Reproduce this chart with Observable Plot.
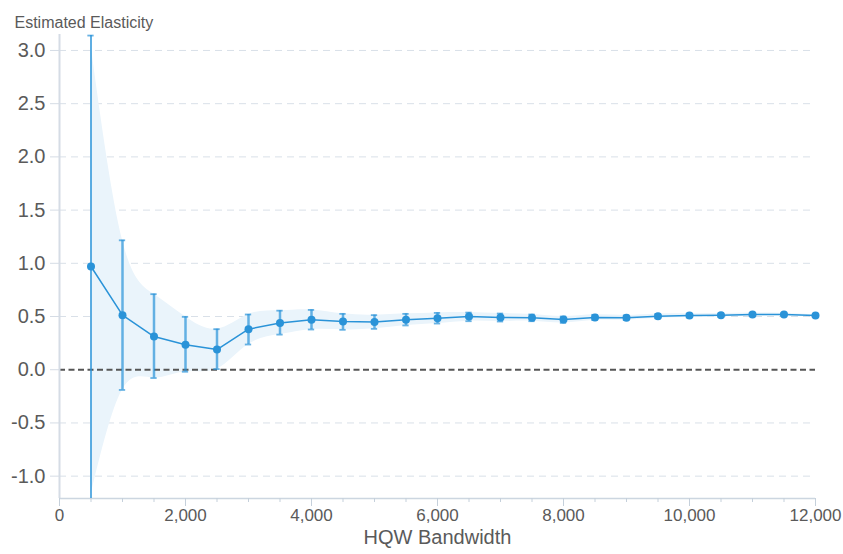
<!DOCTYPE html>
<html>
<head>
<meta charset="utf-8">
<script src="https://cdn.jsdelivr.net/npm/d3@7"></script>
<script src="https://cdn.jsdelivr.net/npm/@observablehq/plot@0.6"></script>
<style>
  html, body { margin: 0; padding: 0; background: #fff; }
</style>
</head>
<body>
<div id="chart"></div>
<script>
const bandwidths = [500,1000,1500,2000,2500,3000,3500,4000,4500,5000,5500,6000,6500,7000,7500,8000,8500,9000,9500,10000,10500,11000,11500,12000];
const estimates  = [0.97,0.513,0.312,0.234,0.19,0.381,0.44,0.469,0.453,0.448,0.469,0.484,0.5,0.491,0.488,0.471,0.491,0.488,0.503,0.509,0.513,0.519,0.519,0.509];
const ciLow      = [-1.45,-0.19,-0.078,-0.019,0.006,0.237,0.33,0.378,0.375,0.384,0.416,0.434,0.456,0.453,0.456,0.44,0.466,0.466,0.483,0.491,0.498,0.506,0.509,0.501];
const ciHigh     = [3.14,1.216,0.71,0.497,0.381,0.519,0.555,0.562,0.525,0.513,0.525,0.534,0.537,0.528,0.519,0.5,0.516,0.51,0.523,0.527,0.528,0.532,0.529,0.517];
const bandLow    = [-1.17,-0.19,-0.078,-0.019,0.006,0.237,0.33,0.378,0.375,0.384,0.416,0.434,0.456,0.453,0.456,0.44,0.466,0.466,0.483,0.491,0.498,0.506,0.509,0.501];
const bandHigh   = [3.05,1.216,0.71,0.497,0.381,0.519,0.555,0.562,0.525,0.513,0.525,0.534,0.537,0.528,0.519,0.5,0.516,0.51,0.523,0.527,0.528,0.532,0.529,0.517];

const xMajorTicks = [0,2000,4000,6000,8000,10000,12000];
const xMinorTicks = d3.range(0, 12001, 500);
const yTicks = [-1.0,-0.5,0,0.5,1.0,1.5,2.0,2.5,3.0];
const xDomain = [0, 12000];
const yDomain = [-1.21, 3.15];
const yTitle = "Estimated Elasticity";
const xTitle = "HQW Bandwidth";

const data = bandwidths.map((x, i) => ({
  x, est: estimates[i], lo: ciLow[i], hi: ciHigh[i], blo: bandLow[i], bhi: bandHigh[i]
}));

const blue = "#2a93d8";
const textColor = "#5a5a5a";
const capHalf = 50;

const chart = Plot.plot({
  width: 843,
  height: 554,
  marginLeft: 59,
  marginRight: 28,
  marginTop: 34,
  marginBottom: 56,
  style: { fontFamily: "'Liberation Sans', Arial, sans-serif", background: "#fff", overflow: "visible" },
  x: { domain: xDomain },
  y: { domain: yDomain },
  marks: [
    Plot.gridY(yTicks.filter(t => t !== 0), { stroke: "#d9e0e8", strokeOpacity: 1, strokeDasharray: "7,5" }),
    Plot.areaY(data, { x: "x", y1: "blo", y2: "bhi", fill: "#eaf4fb", fillOpacity: 1, curve: "natural", clip: true }),
    Plot.ruleY([0], { stroke: "#555", strokeWidth: 2, strokeDasharray: "6,3.5" }),
    Plot.ruleX([xDomain[0]], { stroke: "#d5dce5", strokeWidth: 2 }),
    Plot.ruleY([yDomain[0]], { stroke: "#ccd6e0", strokeWidth: 1.5 }),
    // axis ticks
    Plot.axisY({ ticks: yTicks, tickSize: 9, tickFormat: () => "", stroke: "#d5dce5", label: null }),
    Plot.axisX({ ticks: xMinorTicks, tickSize: 4, tickFormat: () => "", stroke: "#c5d0db", label: null }),
    Plot.axisX({ ticks: xMajorTicks, tickSize: 8, tickFormat: () => "", stroke: "#c5d0db", label: null }),
    // tick labels
    Plot.text(yTicks, { y: d => d, text: d => d.toFixed(1), frameAnchor: "left", dx: -14, textAnchor: "end", fontSize: 20, fill: textColor }),
    Plot.text(xMajorTicks, { x: d => d, text: d => d3.format(",.0f")(d), frameAnchor: "bottom", dy: 22, fontSize: 17, fill: textColor }),
    // error bars
    Plot.ruleX(data.slice(0, 1), { x: "x", y1: "lo", y2: "hi", stroke: blue, strokeWidth: 1.5, clip: true }),
    Plot.ruleX(data.slice(1), { x: "x", y1: "lo", y2: "hi", stroke: blue, strokeOpacity: 0.7, strokeWidth: 2.5, clip: true }),
    Plot.ruleY(data, { y: "hi", x1: d => d.x - capHalf, x2: d => d.x + capHalf, stroke: blue, strokeOpacity: 0.7, strokeWidth: 1.8, clip: true }),
    Plot.ruleY(data.slice(1), { y: "lo", x1: d => d.x - capHalf, x2: d => d.x + capHalf, stroke: blue, strokeOpacity: 0.7, strokeWidth: 1.8, clip: true }),
    Plot.line(data, { x: "x", y: "est", stroke: blue, strokeWidth: 1.5 }),
    Plot.dot(data, { x: "x", y: "est", r: 4, fill: blue, stroke: "none" }),
    Plot.text([yTitle], { frameAnchor: "top-left", dx: -45, dy: -18, textAnchor: "start", fontSize: 16, fill: textColor }),
    Plot.text([xTitle], { frameAnchor: "bottom", dy: 45, fontSize: 20, fill: textColor })
  ]
});

document.getElementById("chart").appendChild(chart);
</script>
</body>
</html>
